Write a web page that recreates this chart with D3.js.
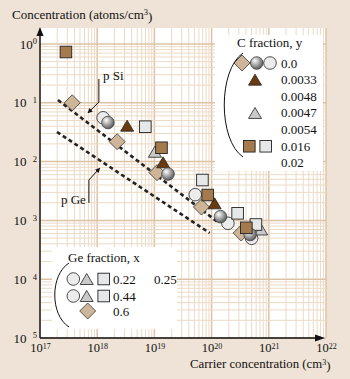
<!DOCTYPE html>
<html>
<head>
<meta charset="utf-8">
<script src="https://cdn.jsdelivr.net/npm/d3@7"></script>
<style>
body { margin: 0; background: #eee3d6; }
svg { display: block; font-family: "Liberation Serif", "Times New Roman", serif; }
</style>
</head>
<body>
<svg id="chart" width="350" height="379"></svg>
<script>
// carrier concentration (cm-3), concentration (atoms/cm3)
const diamondPts = [[3.66e17, 0.100], [2.23e18, 0.0218], [1.11e19, 0.00648], [6.64e19, 0.00169], [3.29e20, 6.1e-4]];
const spherePts = [[1.54e18, 0.0462], [1.73e19, 0.00615], [1.43e20, 0.00116], [4.72e20, 5.75e-4]];
const circlePts = [[1.27e18, 0.0556], [5.17e19, 0.00274], [1.93e20, 8.93e-4], [5.01e20, 4.96e-4]];
const brownTriPts = [[3.34e18, 0.0408], [1.42e19, 0.00973], [1.13e20, 0.00195]];
const greyTriPts = [[1.02e19, 0.0147], [7.34e20, 7.0e-4]];
const brownSqPts = [[2.84e17, 0.731], [1.33e19, 0.0172], [8.55e19, 0.0027], [4.05e20, 7.48e-4]];
const greySqPts = [[6.94e18, 0.0392], [6.91e19, 0.00486], [2.85e20, 0.00132], [5.96e20, 8.51e-4]];

// dashed fit lines
const pSiLine = [[2.06e17, 0.1116], [1.28e20, 9.4e-4]];
const pGeLine = [[1.98e17, 0.0319], [9.27e19, 6.1e-4]];

const xTicks = [1e17, 1e18, 1e19, 1e20, 1e21, 1e22];
const xTickExp = ['17', '18', '19', '20', '21', '22'];
const yTicks = [1, 1e-1, 1e-2, 1e-3, 1e-4, 1e-5];
const yTickExp = ['0', '\u2002 1', '\u2002 2', '\u2002 3', '\u2002 4', '\u2002 5'];

const cLabels = ['0.0', '0.0033', '0.0048', '0.0047', '0.0054', '0.016', '0.02'];
const geLabels = [['0.22', '0.25'], ['0.44'], ['0.6']];

const svg = d3.select('#chart');
const x = d3.scaleLog().domain([1e17, 1e22]).range([40, 326]);
const y = d3.scaleLog().domain([1e-5, 1]).range([338, 44]);
const plotTop = 28;

const defs = svg.append('defs');
const grad = defs.append('radialGradient').attr('id', 'sph')
    .attr('cx', '0.4').attr('cy', '0.38').attr('r', '0.65').attr('fx', '0.35').attr('fy', '0.3');
grad.append('stop').attr('offset', '0').attr('stop-color', '#ffffff');
grad.append('stop').attr('offset', '0.35').attr('stop-color', '#c4c4c4');
grad.append('stop').attr('offset', '0.8').attr('stop-color', '#777');
grad.append('stop').attr('offset', '1').attr('stop-color', '#555');
defs.append('marker').attr('id', 'arr').attr('viewBox', '0 0 10 10')
    .attr('refX', 9).attr('refY', 5).attr('markerWidth', 5).attr('markerHeight', 5)
    .attr('orient', 'auto')
    .append('path').attr('d', 'M0,0L10,5L0,10z').attr('fill', '#111');

// plot background + grid
svg.append('rect').attr('x', 40).attr('y', plotTop).attr('width', 326 - 40).attr('height', 338 - plotTop).attr('fill', '#fff');

const xGrid = [];
for (let d = 17; d < 22; d++) for (let m = 1; m < 10; m++) xGrid.push(m * Math.pow(10, d));
xGrid.push(1e22);
const yGrid = [];
for (let d = -5; d < 0; d++) for (let m = 1; m < 10; m++) yGrid.push(m * Math.pow(10, d));
yGrid.push(1);

const isMajor = v => Math.abs(Math.log10(v) - Math.round(Math.log10(v))) < 1e-9;
const grid = svg.append('g');
grid.selectAll('.vg').data(xGrid).enter().append('line')
    .attr('x1', d => x(d)).attr('x2', d => x(d)).attr('y1', plotTop).attr('y2', 338)
    .attr('stroke', d => isMajor(d) ? '#dcc3a6' : '#ecdac6').attr('stroke-width', d => isMajor(d) ? 1.5 : 1);
grid.selectAll('.hg').data(yGrid).enter().append('line')
    .attr('y1', d => y(d)).attr('y2', d => y(d)).attr('x1', 40).attr('x2', 326)
    .attr('stroke', d => isMajor(d) ? '#dcc3a6' : '#ecdac6').attr('stroke-width', d => isMajor(d) ? 1.5 : 1);

// legend boxes cover the grid
svg.append('rect').attr('x', 215).attr('y', 35).attr('width', 108).attr('height', 136).attr('fill', '#fff');
svg.append('rect').attr('x', 52).attr('y', 247).attr('width', 125).attr('height', 82).attr('fill', '#fff');

// dashed lines
const line = d3.line().x(d => x(d[0])).y(d => y(d[1]));
[pSiLine, pGeLine].forEach(l => {
    svg.append('path').attr('d', line(l)).attr('fill', 'none')
        .attr('stroke', '#222').attr('stroke-width', 2.6).attr('stroke-dasharray', '4,3');
});

// marker shapes
function drawMarker(g, type, cx, cy) {
    if (type === 'circle') {
        g.append('circle').attr('cx', cx).attr('cy', cy).attr('r', 6.3)
            .attr('fill', '#ececec').attr('stroke', '#222').attr('stroke-width', 0.8);
    } else if (type === 'sphere') {
        g.append('circle').attr('cx', cx).attr('cy', cy).attr('r', 6.3)
            .attr('fill', 'url(#sph)').attr('stroke', '#444').attr('stroke-width', 0.8);
    } else if (type === 'diamond') {
        const s = 8;
        g.append('path').attr('d', `M${cx},${cy - s}L${cx + s},${cy}L${cx},${cy + s}L${cx - s},${cy}Z`)
            .attr('fill', '#cfb597').attr('stroke', '#333').attr('stroke-width', 0.8);
    } else if (type === 'brownTri' || type === 'greyTri') {
        const w = 6.5, h = 5.5;
        g.append('path').attr('d', `M${cx},${cy - h}L${cx + w},${cy + h}L${cx - w},${cy + h}Z`)
            .attr('fill', type === 'brownTri' ? '#6b3a0e' : '#c9c9c9')
            .attr('stroke', '#222').attr('stroke-width', 0.8);
    } else {
        const s = 5.8;
        g.append('rect').attr('x', cx - s).attr('y', cy - s).attr('width', 2 * s).attr('height', 2 * s)
            .attr('fill', type === 'brownSq' ? '#a57a4c' : '#e6e7e9')
            .attr('stroke', '#222').attr('stroke-width', 0.9);
    }
}

const series = [
    ['circle', circlePts], ['greyTri', greyTriPts], ['greySq', greySqPts],
    ['diamond', diamondPts], ['brownTri', brownTriPts], ['sphere', spherePts], ['brownSq', brownSqPts]
];
const pts = svg.append('g');
series.forEach(([type, data]) => {
    data.forEach(d => drawMarker(pts, type, x(d[0]), y(d[1])));
});

// annotations
const annSi = { text: 'p Si', at: [1.26e18, 0.244], path: [[1.07e18, 0.254], [1.07e18, 0.103], [6.89e17, 0.0671]] };
const annGe = { text: 'p Ge', at: [6.35e17, 0.0019], path: [[7.16e17, 0.00198], [7.16e17, 0.00486], [1.11e18, 0.00778]] };
[annSi, annGe].forEach((a, i) => {
    svg.append('path').attr('d', line(a.path)).attr('fill', 'none')
        .attr('stroke', '#111').attr('stroke-width', 1).attr('marker-end', 'url(#arr)');
    svg.append('text').attr('x', x(a.at[0])).attr('y', y(a.at[1]))
        .attr('text-anchor', i === 0 ? 'start' : 'end')
        .attr('font-size', 13).attr('fill', '#111').text(a.text);
});

// axes
const xAxis = svg.append('g').attr('transform', 'translate(0,338)')
    .call(d3.axisBottom(x).tickValues(xTicks).tickSize(0).tickPadding(5.5));
xAxis.select('.domain').remove();
xAxis.selectAll('.tick text').each(function (d, i) {
    const t = d3.select(this).attr('font-size', 12.5).attr('fill', '#111').text(null);
    t.append('tspan').text('10');
    t.append('tspan').attr('dy', '-0.45em').attr('font-size', 8).text(xTickExp[i]);
});
xAxis.attr('font-family', null);
const yAxis = svg.append('g').attr('transform', 'translate(40,0)')
    .call(d3.axisLeft(y).tickValues(yTicks).tickSize(0).tickPadding(3));
yAxis.select('.domain').remove();
yAxis.selectAll('.tick text').each(function (d, i) {
    const t = d3.select(this).attr('font-size', 13).attr('fill', '#111').text(null);
    t.append('tspan').text('10');
    t.append('tspan').attr('dy', '-0.5em').attr('font-size', 8.5).text(yTickExp[i]);
});
yAxis.attr('font-family', null);

svg.append('line').attr('x1', 40).attr('y1', 338).attr('x2', 40).attr('y2', 34)
    .attr('stroke', '#111').attr('stroke-width', 1.4);
svg.append('path').attr('d', 'M40,27L43.5,36L36.5,36Z').attr('fill', '#111');
svg.append('line').attr('x1', 40).attr('y1', 338).attr('x2', 318).attr('y2', 338)
    .attr('stroke', '#111').attr('stroke-width', 1.4);
svg.append('path').attr('d', 'M325,338L315,334.5L315,341.5Z').attr('fill', '#111');

// axis titles
const yt = svg.append('text').attr('x', 12).attr('y', 19).attr('font-size', 13).attr('fill', '#111');
yt.append('tspan').text('Concentration (atoms/cm');
yt.append('tspan').attr('dy', '-0.45em').attr('font-size', 8.5).text('3');
yt.append('tspan').attr('dy', '0.45em').text(')');
const xt = svg.append('text').attr('x', 190).attr('y', 368).attr('font-size', 12.8).attr('fill', '#111');
xt.append('tspan').text('Carrier concentration (cm');
xt.append('tspan').attr('dy', '-0.35em').attr('font-size', 8).text('3');
xt.append('tspan').attr('dy', '0.35em').text(')');

// C fraction legend
const cl = svg.append('g');
cl.append('text').attr('x', 237).attr('y', 47).attr('font-size', 13).attr('fill', '#111').text('C fraction, y');
const cRow0 = 63, cStep = 16.65;
cLabels.forEach((lab, i) => {
    cl.append('text').attr('x', 281).attr('y', cRow0 + i * cStep + 4.5)
        .attr('font-size', 13).attr('fill', '#111').text(lab);
});
const cMarks = [['diamond', 242, 0], ['sphere', 256.7, 0], ['circle', 270, 0],
    ['brownTri', 255, 1], ['greyTri', 255, 3], ['brownSq', 249.3, 5], ['greySq', 265.7, 5]];
cMarks.forEach(([t, mx, r]) => drawMarker(cl, t, mx, cRow0 + r * cStep));
cl.append('path').attr('d', 'M243,53C218,70 218,140 243,157').attr('fill', 'none')
    .attr('stroke', '#111').attr('stroke-width', 1);

// Ge fraction legend
const gl = svg.append('g');
gl.append('text').attr('x', 68).attr('y', 262).attr('font-size', 13).attr('fill', '#111').text('Ge fraction, x');
const gRows = [279, 296, 311];
geLabels.forEach((labs, i) => {
    gl.append('text').attr('x', 113).attr('y', gRows[i] + 4.5).attr('font-size', 13).attr('fill', '#111').text(labs[0]);
    if (labs[1]) gl.append('text').attr('x', 154).attr('y', gRows[i] + 4.5).attr('font-size', 13).attr('fill', '#111').text(labs[1]);
});
[0, 1].forEach(r => {
    drawMarker(gl, 'circle', 73.3, gRows[r]);
    drawMarker(gl, 'greyTri', 86.7, gRows[r]);
    drawMarker(gl, 'greySq', 103.7, gRows[r]);
});
drawMarker(gl, 'diamond', 87.7, gRows[2]);
gl.append('path').attr('d', 'M69,263C50,275 50,315 69,327').attr('fill', 'none')
    .attr('stroke', '#111').attr('stroke-width', 1);
</script>
</body>
</html>
